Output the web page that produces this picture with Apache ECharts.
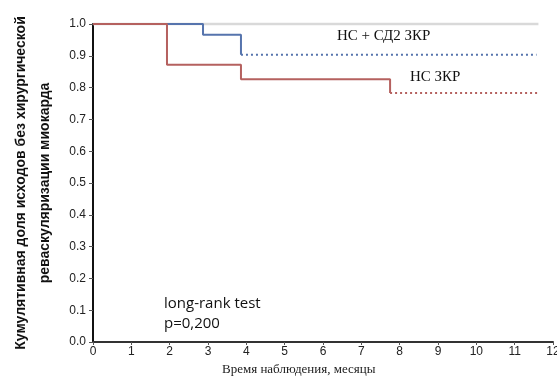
<!DOCTYPE html>
<html><head><meta charset="utf-8">
<script src="https://cdn.jsdelivr.net/npm/echarts@6/dist/echarts.min.js"></script>
<style>html,body{margin:0;padding:0;background:#fff}#c{width:557px;height:381px}</style>
</head><body><div id="c"></div>
<script>
// Group "НС ЗКР" (red)
const redTimes = [0, 1.93, 3.86, 7.75];
const redSurv = [1.0, 0.872, 0.826, 0.783];
const redCensorEnd = 11.62;
// Group "НС + СД2 ЗКР" (blue)
const blueTimes = [0, 2.87, 3.86];
const blueSurv = [1.0, 0.966, 0.903];
const blueCensorEnd = 11.57;
// reference line at 1.0
const refLine = [[0, 1.0], [11.62, 1.0]];
const xTicks = [0,1,2,3,4,5,6,7,8,9,10,11,12];
const yTicks = [0,0.1,0.2,0.3,0.4,0.5,0.6,0.7,0.8,0.9,1.0];

const redSolid = redTimes.map((t,i)=>[t, redSurv[i]]);
const redDot = [[redTimes[redTimes.length-1], redSurv[redSurv.length-1]], [redCensorEnd, redSurv[redSurv.length-1]]];
const blueSolid = blueTimes.map((t,i)=>[t, blueSurv[i]]);
const blueDot = [[blueTimes[blueTimes.length-1], blueSurv[blueSurv.length-1]], [blueCensorEnd, blueSurv[blueSurv.length-1]]];

const RED = '#b5615f', BLUE = '#5674ad';
const chart = echarts.init(document.getElementById('c'));
chart.setOption({
  animation:false,
  grid:{left:93, top:24, right:4, bottom:39, containLabel:false, outerBoundsMode:'none'},
  xAxis:{type:'value', min:0, max:12, interval:1,
    axisLine:{lineStyle:{color:'#333', width:2}},
    axisTick:{length:3, lineStyle:{color:'#555'}},
    axisLabel:{color:'#222', fontSize:12, fontFamily:'Liberation Sans, Arial', margin:4},
    splitLine:{show:false}},
  yAxis:{type:'value', min:0, max:1, interval:0.1,
    axisLine:{show:true, lineStyle:{color:'#111', width:2}},
    axisTick:{show:true, length:4, lineStyle:{color:'#555'}},
    axisLabel:{color:'#222', fontSize:12, fontFamily:'Liberation Sans, Arial', margin:7, formatter:v=>v.toFixed(1)},
    splitLine:{show:false},
    name:'Кумулятивная доля исходов без хирургической\nреваскуляризации миокарда',
    nameLocation:'middle', nameRotate:90, nameGap:36,
    nameTextStyle:{fontSize:14, fontFamily:'Liberation Sans, Arial', color:'#111', lineHeight:24, fontWeight:'bold'}},
  series:[
    {type:'line', data:refLine, symbol:'none', lineStyle:{color:'#d9d9d9', width:2.5}, silent:true, clip:false},
    {type:'line', data:blueSolid, step:'end', symbol:'none', lineStyle:{color:BLUE, width:2}, clip:false},
    {type:'line', data:blueDot, symbol:'none', lineStyle:{color:BLUE, width:2, type:[2,3]}},
    {type:'line', data:redSolid, step:'end', symbol:'none', lineStyle:{color:RED, width:2}, clip:false},
    {type:'line', data:redDot, symbol:'none', lineStyle:{color:RED, width:2, type:[2,3]}}
  ],
  graphic:[
    {type:'text', left:222, top:363, style:{text:'Время наблюдения, месяцы', font:'13px "Liberation Serif", serif', fill:'#222'}},
    {type:'text', left:164, top:294, style:{text:'long-rank test\np=0,200', font:'15px "Open Sans", sans-serif', fill:'#111', lineHeight:20}},
    {type:'text', left:335, top:29, style:{text:'НС + СД2 ЗКР', font:'15px "Liberation Serif", serif', fill:'#111', backgroundColor:'#fff', padding:[0,2]}},
    {type:'text', left:410, top:70, style:{text:'НС ЗКР', font:'15px "Liberation Serif", serif', fill:'#111'}}
  ]
});
</script></body></html>
